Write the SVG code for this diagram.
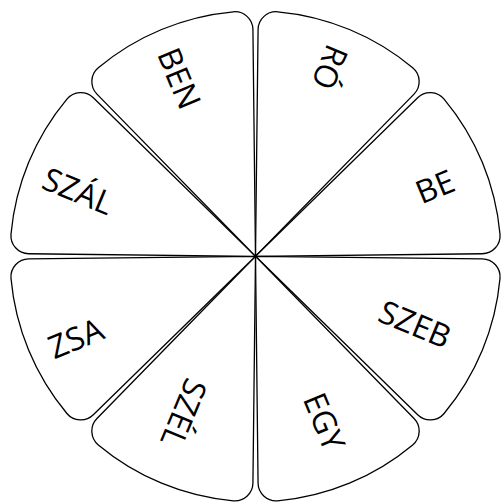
<svg xmlns="http://www.w3.org/2000/svg" xmlns:xlink="http://www.w3.org/1999/xlink" width="502" height="502" viewBox="0 0 502 502">
  <style>
    .wedge { fill: #ffffff; stroke: #000000; stroke-width: 1.3; stroke-linejoin: round; }
    .lbl { font-family: "Open Sans", "Noto Sans", "Liberation Sans", sans-serif; font-size: 32px; fill: #000000; text-anchor: middle; }
  </style>
  <defs>
    <path id="wedge" class="wedge" d="M0,0 L84.406,-210.495 A18,18 0 0 0 73.056,-234.379 A245.5,245.5 0 0 0 -73.056,-234.379 A18,18 0 0 0 -84.406,-210.495 Z"/>
  </defs>
  <rect width="502" height="502" fill="#ffffff"/>
  <g id="sector-ro">
    <use href="#wedge" xlink:href="#wedge" transform="translate(255.5,256.3) rotate(22.5)"/>
    <text class="lbl" transform="translate(329.7,67.2) rotate(112.5)" y="11.4">RÓ</text>
  </g>
  <g id="sector-be">
    <use href="#wedge" xlink:href="#wedge" transform="translate(255.5,256.3) rotate(67.5)"/>
    <text class="lbl" transform="translate(435,186.7) rotate(-22.5)" y="11.4">BE</text>
  </g>
  <g id="sector-szeb">
    <use href="#wedge" xlink:href="#wedge" transform="translate(255.5,256.3) rotate(112.5)"/>
    <text class="lbl" transform="translate(415,324.2) rotate(22.5)" y="11.4">SZEB</text>
  </g>
  <g id="sector-egy">
    <use href="#wedge" xlink:href="#wedge" transform="translate(255.5,256.3) rotate(157.5)"/>
    <text class="lbl" transform="translate(324.2,421.7) rotate(67.5)" y="11.4">EGY</text>
  </g>
  <g id="sector-szel">
    <use href="#wedge" xlink:href="#wedge" transform="translate(255.5,256.3) rotate(202.5)"/>
    <text class="lbl" transform="translate(183.9,413.1) rotate(112.5)" y="11.4">SZÉL</text>
  </g>
  <g id="sector-zsa">
    <use href="#wedge" xlink:href="#wedge" transform="translate(255.5,256.3) rotate(247.5)"/>
    <text class="lbl" transform="translate(75.8,338.3) rotate(-22.5)" y="11.4">ZSA</text>
  </g>
  <g id="sector-szal">
    <use href="#wedge" xlink:href="#wedge" transform="translate(255.5,256.3) rotate(292.5)"/>
    <text class="lbl" transform="translate(78.1,191.1) rotate(22.5)" y="11.4">SZÁL</text>
  </g>
  <g id="sector-ben">
    <use href="#wedge" xlink:href="#wedge" transform="translate(255.5,256.3) rotate(337.5)"/>
    <text class="lbl" transform="translate(179.2,78.3) rotate(67.5)" y="11.4">BEN</text>
  </g>
</svg>
